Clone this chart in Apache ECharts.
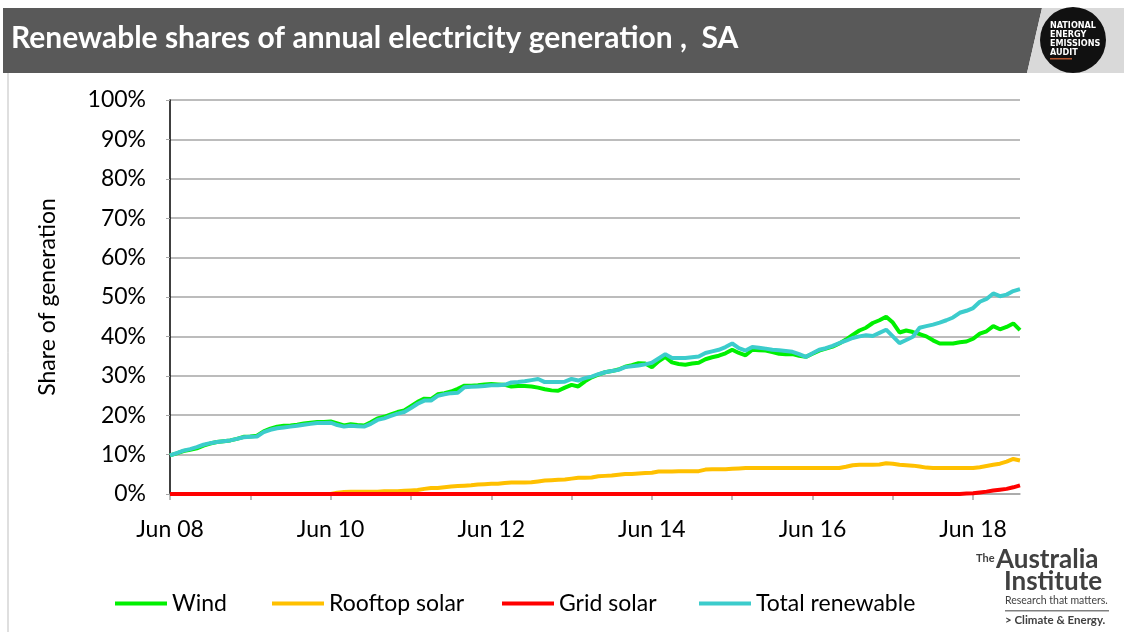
<!DOCTYPE html>
<html>
<head>
<meta charset="utf-8">
<script src="https://cdn.jsdelivr.net/npm/echarts@6/dist/echarts.min.js"></script>
<style>
  html, body { margin: 0; padding: 0; background: #fff; }
  #main { width: 1124px; height: 632px; }
</style>
</head>
<body>
<div id="main"></div>
<script>
// monthly, Jun 08 .. Jan 19 (128 points), share of generation in %
var monthNames = ['Jan', 'Feb', 'Mar', 'Apr', 'May', 'Jun', 'Jul', 'Aug', 'Sep', 'Oct', 'Nov', 'Dec'];
var startYear = 2008, startMonth = 5, nMonths = 128;

var wind = [
    9.8, 10.3, 10.9, 11.2, 11.6, 12.3, 12.8, 13.2, 13.4, 13.6, 14.0, 14.5,
    14.6, 14.8, 15.9, 16.6, 17.1, 17.3, 17.4, 17.6, 17.9, 18.1, 18.3, 18.3,
    18.4, 17.9, 17.4, 17.7, 17.5, 17.4, 18.2, 19.2, 19.6, 20.2, 20.8, 21.2,
    22.3, 23.4, 24.2, 24.1, 25.3, 25.6, 26.0, 26.7, 27.5, 27.5, 27.6, 27.8,
    27.9, 27.8, 27.7, 27.3, 27.4, 27.4, 27.3, 27.0, 26.6, 26.3, 26.2, 27.0,
    27.7, 27.3, 28.6, 29.6, 30.3, 30.9, 31.2, 31.6, 32.3, 32.7, 33.2, 33.1,
    32.2, 33.7, 34.8, 33.4, 33.0, 32.8, 33.1, 33.3, 34.2, 34.7, 35.1, 35.7,
    36.6, 35.8, 35.2, 36.6, 36.5, 36.4, 36.0, 35.6, 35.5, 35.5, 35.1, 34.8,
    35.6, 36.4, 36.9, 37.4, 38.2, 39.2, 40.4, 41.5, 42.2, 43.4, 44.1, 45.0,
    43.5, 41.0, 41.5, 41.1, 40.6, 40.0, 39.0, 38.2, 38.2, 38.2, 38.5, 38.7,
    39.4, 40.7, 41.3, 42.6, 41.8, 42.4, 43.3, 41.6
];

var rooftopSolar = [
    0, 0, 0, 0, 0, 0, 0, 0, 0, 0, 0, 0,
    0, 0, 0, 0, 0, 0, 0, 0, 0, 0, 0, 0,
    0, 0.3, 0.5, 0.6, 0.6, 0.6, 0.6, 0.6, 0.7, 0.7, 0.7, 0.8,
    0.9, 1.0, 1.3, 1.5, 1.5, 1.7, 1.9, 2.0, 2.1, 2.2, 2.4, 2.5,
    2.6, 2.6, 2.8, 2.9, 2.9, 2.9, 3.0, 3.2, 3.4, 3.5, 3.6, 3.7,
    3.9, 4.1, 4.1, 4.2, 4.5, 4.6, 4.7, 4.9, 5.1, 5.1, 5.2, 5.3,
    5.4, 5.7, 5.7, 5.7, 5.8, 5.8, 5.8, 5.8, 6.2, 6.3, 6.3, 6.3,
    6.4, 6.5, 6.6, 6.6, 6.6, 6.6, 6.6, 6.6, 6.6, 6.6, 6.6, 6.6,
    6.6, 6.6, 6.6, 6.6, 6.6, 6.9, 7.3, 7.4, 7.4, 7.4, 7.5, 7.8,
    7.7, 7.4, 7.3, 7.2, 7.0, 6.7, 6.6, 6.6, 6.6, 6.6, 6.6, 6.6,
    6.6, 6.8, 7.1, 7.4, 7.7, 8.2, 8.9, 8.5
];

var gridSolar = [
    0, 0, 0, 0, 0, 0, 0, 0, 0, 0, 0, 0,
    0, 0, 0, 0, 0, 0, 0, 0, 0, 0, 0, 0,
    0, 0, 0, 0, 0, 0, 0, 0, 0, 0, 0, 0,
    0, 0, 0, 0, 0, 0, 0, 0, 0, 0, 0, 0,
    0, 0, 0, 0, 0, 0, 0, 0, 0, 0, 0, 0,
    0, 0, 0, 0, 0, 0, 0, 0, 0, 0, 0, 0,
    0, 0, 0, 0, 0, 0, 0, 0, 0, 0, 0, 0,
    0, 0, 0, 0, 0, 0, 0, 0, 0, 0, 0, 0,
    0, 0, 0, 0, 0, 0, 0, 0, 0, 0, 0, 0,
    0, 0, 0, 0, 0, 0, 0, 0, 0, 0, 0, 0.1,
    0.2, 0.4, 0.6, 0.9, 1.1, 1.3, 1.7, 2.2
];

var totalRenewable = [
    9.8, 10.4, 11.0, 11.4, 11.9, 12.5, 12.9, 13.2, 13.4, 13.6, 14.0, 14.4,
    14.5, 14.6, 15.7, 16.3, 16.7, 16.9, 17.1, 17.3, 17.6, 17.8, 18.0, 18.0,
    18.1, 17.5, 17.1, 17.3, 17.2, 17.1, 17.8, 18.8, 19.2, 19.8, 20.4, 20.8,
    21.8, 22.9, 23.7, 23.7, 24.9, 25.3, 25.6, 25.7, 27.1, 27.2, 27.3, 27.4,
    27.6, 27.6, 27.7, 28.3, 28.4, 28.6, 28.9, 29.2, 28.4, 28.4, 28.4, 28.5,
    29.2, 28.8, 29.4, 29.8, 30.4, 30.9, 31.2, 31.5, 32.2, 32.4, 32.6, 32.9,
    33.3, 34.4, 35.5, 34.5, 34.5, 34.5, 34.7, 34.9, 35.8, 36.2, 36.6, 37.3,
    38.2, 37.0, 36.4, 37.3, 37.1, 36.9, 36.6, 36.5, 36.3, 36.1, 35.5, 34.8,
    35.7, 36.6, 37.0, 37.6, 38.3, 38.9, 39.6, 40.0, 40.3, 40.1, 40.9, 41.7,
    40.0, 38.3, 39.1, 39.9, 42.2, 42.6, 43.0, 43.5, 44.1, 44.8, 46.0, 46.5,
    47.2, 48.8, 49.5, 50.9, 50.2, 50.6, 51.5, 52.0
];

var categories = [];
for (var i = 0; i < nMonths; i++) {
    var m = startMonth + i;
    var yy = (startYear + Math.floor(m / 12)) % 100;
    categories.push(monthNames[m % 12] + ' ' + (yy < 10 ? '0' + yy : yy));
}

var FONT = 'Lato, "Open Sans", sans-serif';

function oneLegend(name, left) {
    return {
        data: [name],
        left: left,
        top: 587,
        icon: 'rect',
        itemWidth: 52,
        itemHeight: 4,
        itemGap: 6,
        textStyle: { fontSize: 23, color: '#000', fontFamily: FONT }
    };
}

function lineSeries(name, data, color) {
    return {
        name: name,
        type: 'line',
        data: data,
        showSymbol: false,
        symbol: 'none',
        lineStyle: { width: 4, color: color },
        itemStyle: { color: color }
    };
}

var myChart = echarts.init(document.getElementById('main'));
var option = {
    animation: false,
    backgroundColor: '#fff',
    grid: { left: 170, right: 104, top: 100, bottom: 138, containLabel: false },
    legend: [
        oneLegend('Wind', 110),
        oneLegend('Rooftop solar', 267),
        oneLegend('Grid solar', 497),
        oneLegend('Total renewable', 694)
    ],
    xAxis: {
        type: 'category',
        data: categories,
        boundaryGap: false,
        axisLine: { lineStyle: { color: '#a6a6a6', width: 1.5 } },
        axisTick: { show: true, interval: 11, length: 6, lineStyle: { color: '#a6a6a6', width: 1.5 } },
        axisLabel: { interval: 23, color: '#000', fontSize: 23, fontFamily: FONT, margin: 24 },
        splitLine: { show: false }
    },
    yAxis: {
        type: 'value',
        min: 0,
        max: 100,
        interval: 10,
        name: 'Share of generation',
        nameLocation: 'middle',
        nameGap: 111,
        nameRotate: 90,
        nameTextStyle: { fontSize: 23, color: '#000', fontFamily: FONT },
        axisLine: { show: true, lineStyle: { color: '#000', width: 1.5 } },
        axisTick: { show: true, length: 4, lineStyle: { color: '#a6a6a6' } },
        axisLabel: { formatter: '{value}%', color: '#000', fontSize: 23, fontFamily: FONT, margin: 24 },
        splitLine: { show: true, lineStyle: { color: '#a6a6a6', width: 1.5 } }
    },
    series: [
        lineSeries('Wind', wind, '#00f000'),
        lineSeries('Rooftop solar', rooftopSolar, '#ffc000'),
        lineSeries('Grid solar', gridSolar, '#ff0000'),
        lineSeries('Total renewable', totalRenewable, '#3ccccc')
    ],
    graphic: [
        // title bar
        { type: 'polygon', shape: { points: [[3, 8], [1042, 8], [1027, 73], [3, 73]] }, style: { fill: '#595959' } },
        { type: 'polygon', shape: { points: [[1042, 8], [1124, 8], [1124, 73], [1027, 73]] }, style: { fill: '#d9d9d9' } },
        { type: 'text', left: 11, top: 23, style: { text: 'Renewable shares of annual electricity generation ,  SA', fill: '#fff', font: 'bold 30px ' + FONT } },
        { type: 'circle', shape: { cx: 1073, cy: 40, r: 33 }, style: { fill: '#111' } },
        { type: 'text', left: 1050, top: 21, style: { text: 'NATIONAL\nENERGY\nEMISSIONS\nAUDIT', fill: '#fff', font: 'bold 9px "DejaVu Sans Condensed", "DejaVu Sans", sans-serif', lineHeight: 9 } },
        { type: 'rect', shape: { x: 1050, y: 58, width: 22, height: 1.5 }, style: { fill: '#b5542d' } },
        // left frame line
        { type: 'line', shape: { x1: 8, y1: 73, x2: 8, y2: 632 }, style: { stroke: '#bfbfbf', lineWidth: 1 } },
        // The Australia Institute logo
        { type: 'text', left: 976, top: 553, style: { text: 'The', fill: '#404040', font: 'bold 11px ' + FONT } },
        { type: 'text', left: 996, top: 547, style: { text: 'Australia', fill: '#404040', font: 'bold 26px ' + FONT } },
        { type: 'text', left: 1004, top: 569, style: { text: 'Institute', fill: '#404040', font: 'bold 26px ' + FONT } },
        { type: 'text', left: 1005, top: 595, style: { text: 'Research that matters.', fill: '#404040', font: '10.5px ' + FONT } },
        { type: 'rect', shape: { x: 1005, y: 610, width: 104, height: 1.5 }, style: { fill: '#808080' } },
        { type: 'text', left: 1005, top: 614, style: { text: '> Climate & Energy.', fill: '#404040', font: 'bold 11.5px ' + FONT } }
    ]
};
myChart.setOption(option);
</script>
</body>
</html>
